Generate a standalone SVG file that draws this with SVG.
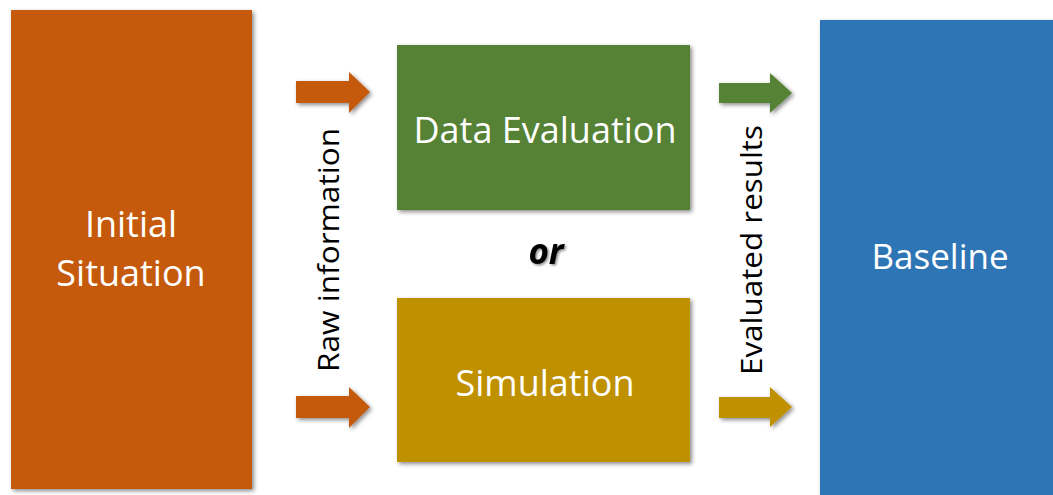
<svg xmlns="http://www.w3.org/2000/svg" width="1053" height="495" viewBox="0 0 1053 495">
  <defs>
    <filter id="shadow" x="-10%" y="-10%" width="130%" height="130%">
      <feDropShadow dx="2" dy="2" stdDeviation="2" flood-color="#000" flood-opacity="0.45"/>
    </filter>
    <filter id="textShadow" x="-20%" y="-20%" width="150%" height="150%">
      <feDropShadow dx="1.5" dy="1.5" stdDeviation="1.2" flood-color="#000" flood-opacity="0.45"/>
    </filter>
  </defs>
  <style>
    .box { filter: url(#shadow); }
    .label { font-family: "Open Sans", "Liberation Sans", sans-serif; fill: #fff; text-anchor: middle; }
    .side { font-family: "Open Sans", "Liberation Sans", sans-serif; fill: #000; text-anchor: middle; font-size: 29px; }
    .arrow { filter: url(#shadow); }
  </style>
  <rect width="1053" height="495" fill="#fff"/>

  <g id="initial-situation">
    <rect class="box" x="11" y="10" width="241" height="479" fill="#C55A11"/>
    <text class="label" x="131" y="237" font-size="36">Initial</text>
    <text class="label" x="131" y="286" font-size="36">Situation</text>
  </g>

  <g id="data-evaluation">
    <rect class="box" x="397" y="45" width="293" height="165" fill="#548235"/>
    <text class="label" x="545" y="143" font-size="36">Data Evaluation</text>
  </g>

  <g id="simulation">
    <rect class="box" x="397" y="298" width="293" height="164" fill="#BF9000"/>
    <text class="label" x="545" y="396" font-size="36">Simulation</text>
  </g>

  <g id="baseline">
    <rect class="box" x="820" y="20" width="240" height="490" fill="#2E75B6"/>
    <text class="label" x="940" y="269" font-size="35">Baseline</text>
  </g>

  <g id="or-label">
    <text x="546" y="264" font-family="Open Sans, Liberation Sans, sans-serif" font-size="35" font-weight="bold" font-style="italic" text-anchor="middle" fill="#000" filter="url(#textShadow)">or</text>
  </g>

  <g id="connectors">
    <path class="arrow" d="M296 81 H349 V72 L370 92 L349 113 V103 H296 Z" fill="#C55A11"/>
    <path class="arrow" d="M296 396 H349 V387 L370 407 L349 428 V418 H296 Z" fill="#C55A11"/>
    <path class="arrow" d="M719 83 H770 V73 L792 93 L770 113 V103 H719 Z" fill="#548235"/>
    <path class="arrow" d="M719 397 H770 V387 L792 407 L770 427 V418 H719 Z" fill="#BF9000"/>
    <text class="side" transform="translate(339 250) rotate(-90)" textLength="244" lengthAdjust="spacingAndGlyphs">Raw information</text>
    <text class="side" transform="translate(762 250) rotate(-90)" textLength="250" lengthAdjust="spacingAndGlyphs">Evaluated results</text>
  </g>
</svg>
